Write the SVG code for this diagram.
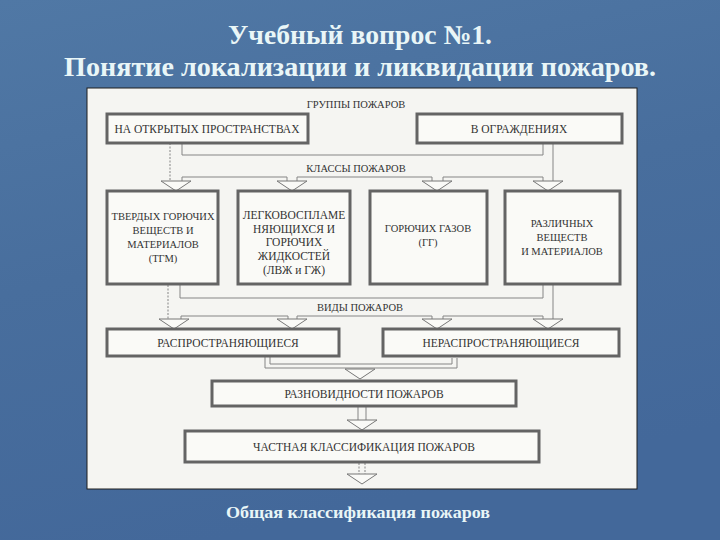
<svg xmlns="http://www.w3.org/2000/svg" xmlns:xlink="http://www.w3.org/1999/xlink" width="720" height="540" viewBox="0 0 720 540">
<defs>
<linearGradient id="bg" x1="0" y1="0" x2="0.3" y2="1">
<stop offset="0" stop-color="#5078a5"/>
<stop offset="0.5" stop-color="#486e9d"/>
<stop offset="1" stop-color="#43689a"/>
</linearGradient>
<style>
.title{font-family:'Liberation Serif','DejaVu Serif',serif;font-weight:bold;fill:#e9f6f7;text-anchor:middle}
.box{fill:#fafaf7;stroke:#646464;stroke-width:3}
.t{font-family:'Liberation Serif','DejaVu Serif',serif;font-size:11.5px;fill:#333333;text-anchor:middle}
.s{font-size:10.5px}
.c{fill:none;stroke:#858585;stroke-width:1}
.d{stroke-dasharray:2 1.5}
.ah{fill:#fafaf7;stroke:#777777;stroke-width:1}
</style>
<path id="ah" d="M-15,0 H15 L0,10 Z"/>
</defs>
<rect width="720" height="540" fill="url(#bg)"/>
<text class="title" x="360" y="44" font-size="27" font-family="Liberation Serif, serif" textLength="264" lengthAdjust="spacingAndGlyphs">Учебный вопрос №1.</text>
<text class="title" x="360" y="76" font-size="27" font-family="Liberation Serif, serif" textLength="592" lengthAdjust="spacingAndGlyphs">Понятие локализации и ликвидации пожаров.</text>
<rect x="87" y="88" width="550" height="401" fill="#f5f5f2" stroke="#1e1e1e" stroke-width="1"/>
<text class="title" x="358" y="518" font-size="16" font-family="Liberation Serif, serif" textLength="264" lengthAdjust="spacingAndGlyphs">Общая классификация пожаров</text>

<g id="connectors" font-family="Liberation Serif, serif">
<text class="t s" x="356" y="108">ГРУППЫ ПОЖАРОВ</text>
<text class="t s" x="356" y="172">КЛАССЫ ПОЖАРОВ</text>
<text class="t s" x="360" y="311">ВИДЫ ПОЖАРОВ</text>
<path class="c d" d="M170,143 V181"/>
<path class="c" d="M182,143 V155 H543 V143"/>
<path class="c" d="M553,143 V181"/>
<path class="c" d="M182,181 V177 H287 V181 M297,181 V177 H432 V181 M443,181 V177 H543 V181"/>
<use href="#ah" class="ah" x="176" y="181"/>
<use href="#ah" class="ah" x="292" y="181"/>
<use href="#ah" class="ah" x="437" y="181"/>
<use href="#ah" class="ah" x="548" y="181"/>
<path class="c d" d="M168,285 V319"/>
<path class="c" d="M180,285 V298 H543 V285"/>
<path class="c" d="M553,285 V319"/>
<path class="c" d="M181,319 V316 H288 V319 M297,319 V316 H432 V319 M443,319 V316 H543 V319"/>
<use href="#ah" class="ah" x="174" y="319"/>
<use href="#ah" class="ah" x="292" y="319"/>
<use href="#ah" class="ah" x="437" y="319"/>
<use href="#ah" class="ah" x="548" y="319"/>
<path class="c" d="M265,357 V368 H457 V358"/>
<path class="c" d="M270,357 V364 H452 V358"/>
<use href="#ah" class="ah" x="360" y="369"/>
<path class="c" d="M358,407 V420 M366,407 V420"/>
<use href="#ah" class="ah" x="362" y="420"/>
<path class="c d" d="M359,463 V474 M365,463 V474"/>
<use href="#ah" class="ah" x="362" y="474"/>
</g>

<g id="nodes" font-family="Liberation Serif, serif">
<g id="open">
<rect class="box" x="107" y="114" width="201" height="29"/>
<text class="t" x="207" y="133">НА ОТКРЫТЫХ ПРОСТРАНСТВАХ</text>
</g>
<g id="enclosed">
<rect class="box" x="417" y="114" width="205" height="29"/>
<text class="t" x="519" y="133">В ОГРАЖДЕНИЯХ</text>
</g>
<g id="solid">
<rect class="box" x="107" y="191" width="111" height="93"/>
<text class="t s" x="163" y="220">ТВЕРДЫХ ГОРЮЧИХ</text>
<text class="t s" x="163" y="234">ВЕЩЕСТВ И</text>
<text class="t s" x="163" y="248">МАТЕРИАЛОВ</text>
<text class="t s" x="163" y="262">(ТГМ)</text>
</g>
<g id="liquid">
<rect class="box" x="238" y="191" width="112" height="93"/>
<text class="t" x="294" y="219">ЛЕГКОВОСПЛАМЕ</text>
<text class="t" x="294" y="233">НЯЮЩИХСЯ И</text>
<text class="t" x="294" y="246">ГОРЮЧИХ</text>
<text class="t" x="294" y="260">ЖИДКОСТЕЙ</text>
<text class="t" x="294" y="274" font-size="9.5">(ЛВЖ и ГЖ)</text>
</g>
<g id="gas">
<rect class="box" x="370" y="191" width="117" height="93"/>
<text class="t s" x="428" y="232">ГОРЮЧИХ ГАЗОВ</text>
<text class="t s" x="428" y="246">(ГГ)</text>
</g>
<g id="various">
<rect class="box" x="505" y="191" width="115" height="93"/>
<text class="t s" x="562" y="227">РАЗЛИЧНЫХ</text>
<text class="t s" x="562" y="241">ВЕЩЕСТВ</text>
<text class="t s" x="562" y="255">И МАТЕРИАЛОВ</text>
</g>
<g id="spreading">
<rect class="box" x="107" y="329" width="232" height="27"/>
<text class="t" x="228" y="347">РАСПРОСТРАНЯЮЩИЕСЯ</text>
</g>
<g id="nonspreading">
<rect class="box" x="383" y="329" width="236" height="27"/>
<text class="t" x="501" y="347">НЕРАСПРОСТРАНЯЮЩИЕСЯ</text>
</g>
<g id="varieties">
<rect class="box" x="212" y="381" width="304" height="25"/>
<text class="t" x="364" y="398">РАЗНОВИДНОСТИ ПОЖАРОВ</text>
</g>
<g id="particular">
<rect class="box" x="185" y="431" width="354" height="31"/>
<text class="t" x="364" y="451">ЧАСТНАЯ КЛАССИФИКАЦИЯ ПОЖАРОВ</text>
</g>
</g>
</svg>
